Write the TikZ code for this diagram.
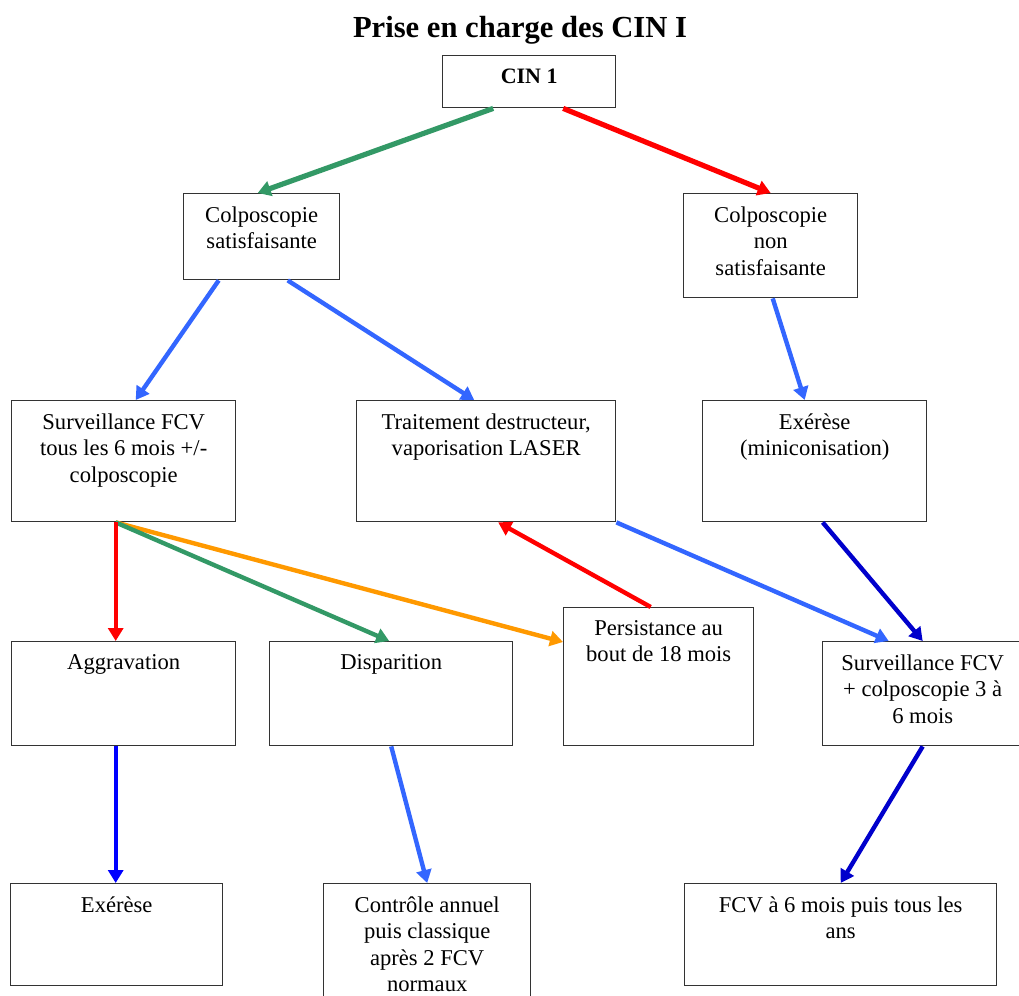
\documentclass[tikz,border=0pt]{standalone}
\usepackage{fontspec}
\setmainfont{Liberation Serif}
\usepackage{tikz}
\usetikzlibrary{arrows.meta,positioning}
\tikzset{
  box/.style={draw=black!80, line width=0.7pt, rectangle, anchor=north west, inner sep=0pt},
  txt/.style={anchor=north, align=center, inner sep=6.5pt, font=\fontsize{11.3}{13.25}\selectfont},
  arr/.style={-{Triangle[length=6.5pt,width=7.5pt]}, line width=2.2pt},
  ttl/.style={anchor=base, font=\bfseries\fontsize{15.3}{18}\selectfont}
}
\definecolor{cGreen}{RGB}{51,153,102}
\definecolor{cRed}{RGB}{255,0,0}
\definecolor{cOrange}{RGB}{255,153,0}
\definecolor{cBlue}{RGB}{51,102,255}
\definecolor{cNavy}{RGB}{0,0,204}
\begin{document}
\begin{tikzpicture}[x=0.5pt, y=-0.5pt]
  \fill[white] (0,0) rectangle (1019,996);
  \useasboundingbox (0,0) rectangle (1019,996);
  \node[ttl] (title) at (520,37) {Prise en charge des CIN I};
  % boxes, text sits at the top of each one
  \node[box, minimum width=86.5pt, minimum height=26pt, label={[txt, inner sep=7pt, font=\bfseries\fontsize{11}{13}\selectfont]north:CIN 1}] (cin) at (442,55) {};
  \node[box, minimum width=78pt, minimum height=43pt, label={[txt]north:Colposcopie\\satisfaisante}] (csat) at (183,193) {};
  \node[box, minimum width=87pt, minimum height=52pt, label={[txt]north:Colposcopie\\non\\satisfaisante}] (cnon) at (683,193) {};
  \node[box, minimum width=112pt, minimum height=60.5pt, label={[txt]north:Surveillance FCV\\tous les 6 mois +/-\\colposcopie}] (surv) at (11,400) {};
  \node[box, minimum width=129.5pt, minimum height=60.5pt, label={[txt]north:Traitement destructeur,\\vaporisation LASER}] (trait) at (356,400) {};
  \node[box, minimum width=112pt, minimum height=60.5pt, label={[txt]north:Exérèse\\(miniconisation)}] (exe) at (702,400) {};
  \node[box, minimum width=112pt, minimum height=52pt, label={[txt]north:Aggravation}] (aggr) at (11,641) {};
  \node[box, minimum width=121.5pt, minimum height=52pt, label={[txt]north:Disparition}] (disp) at (269,641) {};
  \node[box, minimum width=95pt, minimum height=69pt, label={[txt]north:Persistance au\\bout de 18 mois}] (pers) at (563,607) {};
  \node[box, minimum width=100pt, minimum height=52pt, label={[txt]north:Surveillance FCV\\+ colposcopie 3 à\\6 mois}] (survc) at (822,641) {};
  \node[box, minimum width=106pt, minimum height=51pt, label={[txt]north:Exérèse}] (exeb) at (10,883) {};
  \node[box, minimum width=103.5pt, minimum height=60pt, label={[txt]north:Contrôle annuel\\puis classique\\après 2 FCV\\normaux}] (ctrl) at (323,883) {};
  \node[box, minimum width=156pt, minimum height=51pt, label={[txt]north:FCV à 6 mois puis tous les\\ans}] (fcv) at (684,883) {};
  % arrows
  \draw[arr, cGreen, line width=2.6pt] ([xshift=-18pt]cin.south) -- ([xshift=-2pt]csat.north);
  \draw[arr, cRed, line width=2.6pt] ([xshift=17pt]cin.south) -- (cnon.north);
  \draw[arr, cBlue] ([xshift=-21.5pt]csat.south) -- ([xshift=6pt]surv.north);
  \draw[arr, cBlue] ([xshift=13pt]csat.south) -- ([xshift=-6pt]trait.north);
  \draw[arr, cBlue] ([xshift=1pt]cnon.south) -- ([xshift=-5pt]exe.north);
  \draw[arr, cOrange] ([xshift=-4pt]surv.south) -- ([yshift=-17.5pt]pers.north west);
  \draw[arr, cGreen] ([xshift=-4pt]surv.south) -- ([xshift=-1pt]disp.north);
  \draw[arr, cRed] ([xshift=-4pt]surv.south) -- ([xshift=-4pt]aggr.north);
  \draw[arr, cRed] ([xshift=-4pt]pers.north) -- ([xshift=6pt]trait.south);
  \draw[arr, cBlue] (trait.south east) -- ([xshift=-17pt]survc.north);
  \draw[arr, cNavy] ([xshift=4pt]exe.south) -- (survc.north);
  \draw[arr, blue] ([xshift=-4pt]aggr.south) -- ([xshift=-0.5pt]exeb.north);
  \draw[arr, cBlue] (disp.south) -- (ctrl.north);
  \draw[arr, cNavy] (survc.south) -- (fcv.north);
\end{tikzpicture}
\end{document}
